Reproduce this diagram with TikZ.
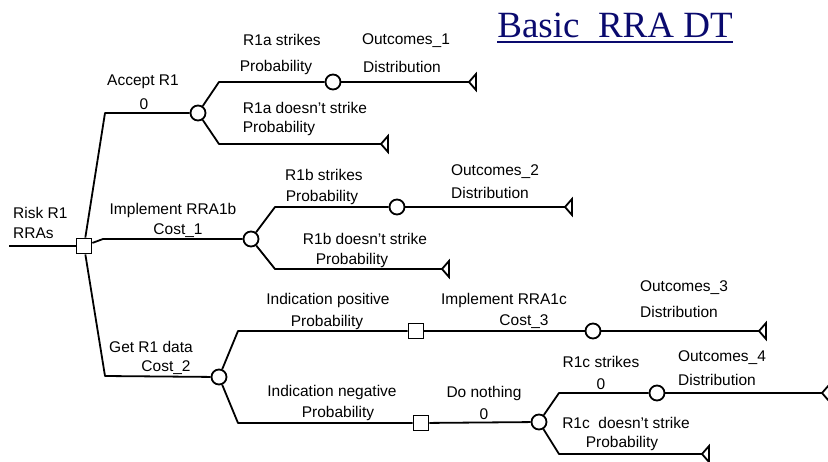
\documentclass[tikz,border=0pt]{standalone}
\usepackage{fontspec}
\setmainfont{Liberation Sans}
\newfontfamily\titlefont{Liberation Serif}
\definecolor{navy}{RGB}{10,10,110}
\begin{document}
\begin{tikzpicture}[x=1pt,y=-1pt,
  br/.style={line width=1.8pt, line join=round},
  chance/.style={circle, draw, line width=1.8pt, minimum size=15pt, inner sep=0pt, fill=white},
  decision/.style={rectangle, draw, line width=1.8pt, minimum size=15pt, inner sep=0pt, fill=white},
  lbl/.style={font=\fontsize{15.5}{17}\selectfont, inner sep=0pt},
  terminal/.pic={\draw[line width=1.8pt, line join=miter] (0,0) -- (7,-8) -- (7,8) -- cycle;}
]
\useasboundingbox (0,0) rectangle (828,461);

% title
\node[font=\titlefont\fontsize{37}{40}\selectfont, text=navy, anchor=base, inner sep=0pt] (title) at (615,37) {Basic\ \ RRA DT};
\draw[navy, line width=2pt] ([yshift=-4.7pt]title.base west) -- ([yshift=-4.7pt]title.base east);

% nodes
\coordinate (root) at (9,246);
\node[decision] (d0) at (84,246) {};
\coordinate (ka) at (105,113);
\node[chance] (c1) at (198,113) {};
\coordinate (kb) at (103,239);
\node[chance] (c2) at (251,239) {};
\coordinate (kc) at (105,376);
\node[chance] (c3) at (219,377) {};

\coordinate (k1a) at (219,82);
\node[chance] (c1a) at (333,82) {};
\coordinate (t1) at (469,82);
\coordinate (k1b) at (219,144);
\coordinate (t2) at (381,144);

\coordinate (k2a) at (275,207);
\node[chance] (c2a) at (397,207) {};
\coordinate (t3) at (565,207);
\coordinate (k2b) at (275,269);
\coordinate (t4) at (442,269);

\coordinate (k3a) at (238,331);
\node[decision] (d3a) at (416,331) {};
\node[chance] (c3a) at (593,331) {};
\coordinate (t5) at (759,331);
\coordinate (k3b) at (238,423);
\node[decision] (d3b) at (421,423) {};
\node[chance] (c4) at (539,422) {};
\coordinate (k4a) at (559,393);
\node[chance] (c4a) at (657,393) {};
\coordinate (t6) at (822,393);
\coordinate (k4b) at (559,454);
\coordinate (t7) at (702,454);

% connectors
\draw[br] (root) -- (d0);
\draw[br] (d0) -- (ka) -- (c1);
\draw[br] (d0) -- (kb) -- (c2);
\draw[br] (d0) -- (kc) -- (c3);
\draw[br] (c1) -- (k1a) -- (c1a);
\draw[br] (c1a) -- (t1);
\draw[br] (c1) -- (k1b) -- (t2);
\draw[br] (c2) -- (k2a) -- (c2a);
\draw[br] (c2a) -- (t3);
\draw[br] (c2) -- (k2b) -- (t4);
\draw[br] (c3) -- (k3a) -- (d3a);
\draw[br] (d3a) -- (c3a);
\draw[br] (c3a) -- (t5);
\draw[br] (c3) -- (k3b) -- (d3b);
\draw[br] (d3b) -- (c4);
\draw[br] (c4) -- (k4a) -- (c4a);
\draw[br] (c4a) -- (t6);
\draw[br] (c4) -- (k4b) -- (t7);

% terminals
\pic at (t1) {terminal};
\pic at (t2) {terminal};
\pic at (t3) {terminal};
\pic at (t4) {terminal};
\pic at (t5) {terminal};
\pic at (t6) {terminal};
\pic at (t7) {terminal};

% labels
\node[lbl, anchor=west] (L1) at (13,213) {Risk R1};
\node[lbl, anchor=west] (L2) at (13,233) {RRAs};
\node[lbl] (L3) at (143,82) {Accept R1};
\node[lbl] (L4) at (144,104) {0};
\node[lbl] (L5) at (282,40) {R1a strikes};
\node[lbl] (L6) at (276,67) {Probability};
\node[lbl] (L7) at (406,41) {Outcomes\_1};
\node[lbl] (L8) at (402,67) {Distribution};
\node[lbl] (L9) at (305,108) {R1a doesn't strike};
\node[lbl] (L10) at (279,128) {Probability};
\node[lbl] (L11) at (173,210) {Implement RRA1b};
\node[lbl] (L12) at (178,231) {Cost\_1};
\node[lbl] (L13) at (324,175) {R1b strikes};
\node[lbl] (L14) at (322,197) {Probability};
\node[lbl] (L15) at (495,172) {Outcomes\_2};
\node[lbl] (L16) at (490,193) {Distribution};
\node[lbl] (L17) at (365,239) {R1b doesn't strike};
\node[lbl] (L18) at (352,260) {Probability};
\node[lbl] (L19) at (151,347) {Get R1 data};
\node[lbl] (L20) at (166,368) {Cost\_2};
\node[lbl] (L21) at (328,300) {Indication positive};
\node[lbl] (L22) at (327,322) {Probability};
\node[lbl] (L23) at (504,300) {Implement RRA1c};
\node[lbl] (L24) at (524,322) {Cost\_3};
\node[lbl] (L25) at (684,288) {Outcomes\_3};
\node[lbl] (L26) at (679,312) {Distribution};
\node[lbl] (L27) at (332,392) {Indication negative};
\node[lbl] (L28) at (338,413) {Probability};
\node[lbl] (L29) at (484,393) {Do nothing};
\node[lbl] (L30) at (484,414) {0};
\node[lbl] (L31) at (601,362) {R1c strikes};
\node[lbl] (L32) at (601,384) {0};
\node[lbl] (L33) at (722,358) {Outcomes\_4};
\node[lbl] (L34) at (717,380) {Distribution};
\node[lbl] (L35) at (626,423) {R1c\ \ doesn't strike};
\node[lbl] (L36) at (622,443) {Probability};
\end{tikzpicture}
\end{document}
